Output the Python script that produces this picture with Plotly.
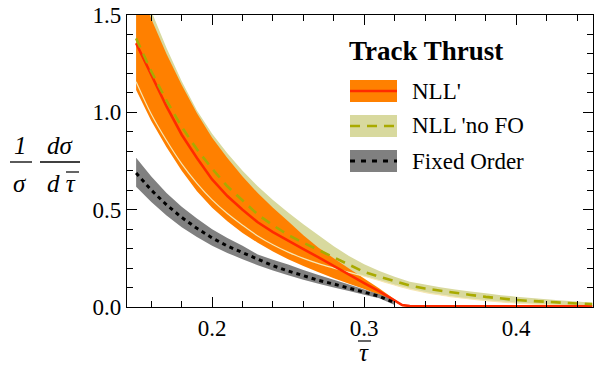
import plotly.graph_objects as go

# ---------------- data ----------------
tau = [0.15, 0.16, 0.17, 0.18, 0.19, 0.20, 0.21, 0.22, 0.23, 0.24, 0.25, 0.26,
       0.27, 0.28, 0.29, 0.30, 0.31, 0.32, 0.325, 0.33, 0.34, 0.35, 0.36, 0.37,
       0.38, 0.39, 0.40, 0.41, 0.42, 0.43, 0.44, 0.45]

nll_central = [1.355, 1.19, 1.03, 0.885, 0.765, 0.655, 0.57, 0.50, 0.435, 0.385, 0.34, 0.297,
               0.255, 0.21, 0.165, 0.123, 0.08, 0.035, 0.01, 0.005, 0.004, 0.004, 0.004, 0.004,
               0.004, 0.004, 0.004, 0.004, 0.004, 0.004, 0.004, 0.004]
nll_upper = [1.68, 1.48, 1.30, 1.14, 0.995, 0.87, 0.765, 0.67, 0.585, 0.51, 0.44, 0.368,
             0.305, 0.25, 0.198, 0.147, 0.095, 0.04, 0.012, 0.01, 0.009, 0.009, 0.009, 0.009,
             0.009, 0.009, 0.009, 0.009, 0.009, 0.009, 0.009, 0.009]
nll_lower = [1.115, 0.955, 0.82, 0.70, 0.595, 0.51, 0.44, 0.38, 0.33, 0.285, 0.245, 0.21,
             0.178, 0.148, 0.12, 0.092, 0.062, 0.028, 0.004, 0.001, 0.0, 0.0, 0.0, 0.0,
             0.0, 0.0, 0.0, 0.0, 0.0, 0.0, 0.0, 0.0]

nofo_central = [1.38, 1.21, 1.06, 0.925, 0.81, 0.71, 0.62, 0.548, 0.475, 0.42, 0.37, 0.33,
                0.293, 0.255, 0.215, 0.18, 0.155, 0.133, 0.122, 0.11, 0.095, 0.083, 0.072, 0.062,
                0.052, 0.043, 0.036, 0.031, 0.026, 0.022, 0.018, 0.015]
nofo_upper = [1.75, 1.52, 1.33, 1.16, 1.01, 0.89, 0.79, 0.70, 0.62, 0.55, 0.485, 0.425,
              0.368, 0.312, 0.262, 0.22, 0.185, 0.155, 0.142, 0.13, 0.115, 0.102, 0.09, 0.08,
              0.07, 0.061, 0.053, 0.046, 0.04, 0.034, 0.028, 0.022]
nofo_lower = [1.157, 0.99, 0.855, 0.735, 0.635, 0.55, 0.48, 0.42, 0.365, 0.32, 0.282, 0.25,
              0.223, 0.20, 0.178, 0.158, 0.136, 0.113, 0.102, 0.092, 0.075, 0.062, 0.05, 0.041,
              0.033, 0.026, 0.02, 0.016, 0.012, 0.009, 0.007, 0.005]

tau_fo = [0.15, 0.16, 0.17, 0.18, 0.19, 0.20, 0.21, 0.22, 0.23, 0.24, 0.25, 0.26,
          0.27, 0.28, 0.29, 0.30, 0.31, 0.32]
fo_central = [0.688, 0.60, 0.525, 0.46, 0.404, 0.355, 0.313, 0.278, 0.245, 0.212, 0.185, 0.16,
              0.137, 0.118, 0.098, 0.078, 0.055, 0.022]
fo_upper = [0.767, 0.67, 0.585, 0.515, 0.455, 0.40, 0.355, 0.315, 0.27, 0.243, 0.218, 0.19,
            0.165, 0.14, 0.115, 0.09, 0.065, 0.035]
fo_lower = [0.618, 0.54, 0.47, 0.41, 0.36, 0.315, 0.278, 0.245, 0.215, 0.188, 0.163, 0.14,
            0.12, 0.10, 0.082, 0.063, 0.045, 0.01]

x_ticks = [0.2, 0.3, 0.4]
y_ticks = [0.0, 0.5, 1.0, 1.5]
legend_title = "Track Thrust"
legend_labels = ["NLL'", "NLL 'no FO", "Fixed Order"]

# ---------------- styles ----------------
C_ORANGE = "#ff8000"
C_RED = "#ff2a00"
C_GREENBAND = "#d8d99e"
C_GREENLINE = "#a9aa00"
C_PALE = "#f6e7b4"
C_GRAY = "#808080"
FONT = "Liberation Serif"
FIG_W, FIG_H = 601, 369


def band(x, lo, hi, color):
    return go.Scatter(x=list(x) + list(x)[::-1], y=list(hi) + list(lo)[::-1],
                      fill="toself", fillcolor=color, mode="none",
                      hoverinfo="skip", showlegend=False)


fig = go.Figure()
fig.add_trace(band(tau, nofo_lower, nofo_upper, C_GREENBAND))
fig.add_trace(band(tau, nll_lower, nll_upper, C_ORANGE))
fig.add_trace(go.Scatter(x=tau, y=nofo_lower, mode="lines", line_shape="spline",
                         line=dict(color=C_PALE, width=1.2), showlegend=False))
fig.add_trace(band(tau_fo, fo_lower, fo_upper, C_GRAY))
fig.add_trace(go.Scatter(x=tau, y=nll_central, mode="lines",
                         line=dict(color=C_RED, width=2.6), showlegend=False))
fig.add_trace(go.Scatter(x=tau, y=nofo_central, mode="lines",
                         line=dict(color=C_GREENLINE, width=2.6, dash="10px,7px"),
                         showlegend=False))
fig.add_trace(go.Scatter(x=tau_fo, y=fo_central, mode="lines",
                         line=dict(color="black", width=3, dash="4px,4px"),
                         showlegend=False))

# plot area in page pixels: x 127..593, y 15..307
PL, PR, PT, PB = 127, 593, 15, 307


def px(xp):
    return (xp - PL) / (PR - PL)


def py(yp):
    return (PB - yp) / (PB - PT)


shapes = []
annotations = []

# manual legend
sw_x0, sw_x1 = px(350), px(397)
rows = [(80, 102, C_ORANGE, C_RED, "solid", 2.6),
        (115, 137, C_GREENBAND, C_GREENLINE, "10px,7px", 2.6),
        (150, 172, C_GRAY, "black", "5px,6px", 3)]
for (top, bot, fc, lc, dash, lw), label in zip(rows, legend_labels):
    shapes.append(dict(type="rect", xref="paper", yref="paper",
                       x0=sw_x0, x1=sw_x1, y0=py(bot), y1=py(top),
                       fillcolor=fc, line=dict(width=0)))
    mid = (top + bot) / 2
    shapes.append(dict(type="line", xref="paper", yref="paper",
                       x0=sw_x0, x1=sw_x1, y0=py(mid), y1=py(mid),
                       line=dict(color=lc, width=lw, dash=dash)))
    annotations.append(dict(text=label, xref="paper", yref="paper",
                            x=px(410), y=py(mid), xanchor="left", yanchor="middle",
                            showarrow=False, font=dict(family=FONT, size=23, color="black")))

annotations.append(dict(text="<b>" + legend_title + "</b>", xref="paper", yref="paper",
                        x=px(347), y=py(51), xanchor="left", yanchor="middle",
                        showarrow=False, font=dict(family=FONT, size=27, color="black")))

# y-axis title as fraction
ifont = dict(family=FONT, size=25, color="black")
annotations += [
    dict(text="<i>1</i>", xref="paper", yref="paper", x=px(20), y=py(145),
         xanchor="center", yanchor="middle", showarrow=False, font=ifont),
    dict(text="<i>σ</i>", xref="paper", yref="paper", x=px(20), y=py(183),
         xanchor="center", yanchor="middle", showarrow=False, font=ifont),
    dict(text="<i>dσ</i>", xref="paper", yref="paper", x=px(60), y=py(145),
         xanchor="center", yanchor="middle", showarrow=False, font=ifont),
    dict(text="<i>d τ</i>", xref="paper", yref="paper", x=px(61), y=py(183),
         xanchor="center", yanchor="middle", showarrow=False, font=ifont),
    dict(text="<i>τ</i>", xref="paper", yref="paper", x=px(364), y=py(352),
         xanchor="center", yanchor="middle", showarrow=False, font=ifont),
]
shapes += [
    dict(type="line", xref="paper", yref="paper", x0=px(10), x1=px(32),
         y0=py(162), y1=py(162), line=dict(color="black", width=1.3)),
    dict(type="line", xref="paper", yref="paper", x0=px(40), x1=px(80),
         y0=py(162), y1=py(162), line=dict(color="black", width=1.3)),
    # overlines on tau
    dict(type="line", xref="paper", yref="paper", x0=px(66), x1=px(79),
         y0=py(172), y1=py(172), line=dict(color="black", width=1.2)),
    dict(type="line", xref="paper", yref="paper", x0=px(358), x1=px(371),
         y0=py(341), y1=py(341), line=dict(color="black", width=1.2)),
]

axis_common = dict(showline=True, linecolor="black", linewidth=1.3, mirror="ticks",
                   ticks="inside", tickcolor="black", tickwidth=1.2, ticklen=10,
                   showgrid=False, zeroline=False, automargin=False,
                   ticklabeloverflow="allow",
                   tickfont=dict(family=FONT, size=23, color="black"))

fig.update_layout(
    width=FIG_W, height=FIG_H,
    margin=dict(l=PL, r=FIG_W - PR, t=PT, b=FIG_H - PB, autoexpand=False),
    paper_bgcolor="white", plot_bgcolor="white",
    font=dict(family=FONT, color="black"),
    showlegend=False,
    shapes=shapes, annotations=annotations,
    xaxis=dict(range=[0.144, 0.4505], tickvals=x_ticks,
               ticktext=[f"{v:.1f}" for v in x_ticks],
               minor=dict(ticks="inside", ticklen=6, tickwidth=1.1, tickcolor="black",
                          dtick=0.02, tick0=0, showgrid=False),
               **axis_common),
    yaxis=dict(range=[0, 1.5], tickvals=y_ticks,
               ticktext=[f"{v:.1f}" for v in y_ticks],
               minor=dict(ticks="inside", ticklen=6, tickwidth=1.1, tickcolor="black",
                          dtick=0.1, tick0=0, showgrid=False),
               **axis_common),
)

# remove the default page margin so the 601x369 figure fills the window exactly
fig.write_html("out.html", config={"displayModeBar": False},
               post_script="document.body.style.margin='0';document.body.style.padding='0';")
